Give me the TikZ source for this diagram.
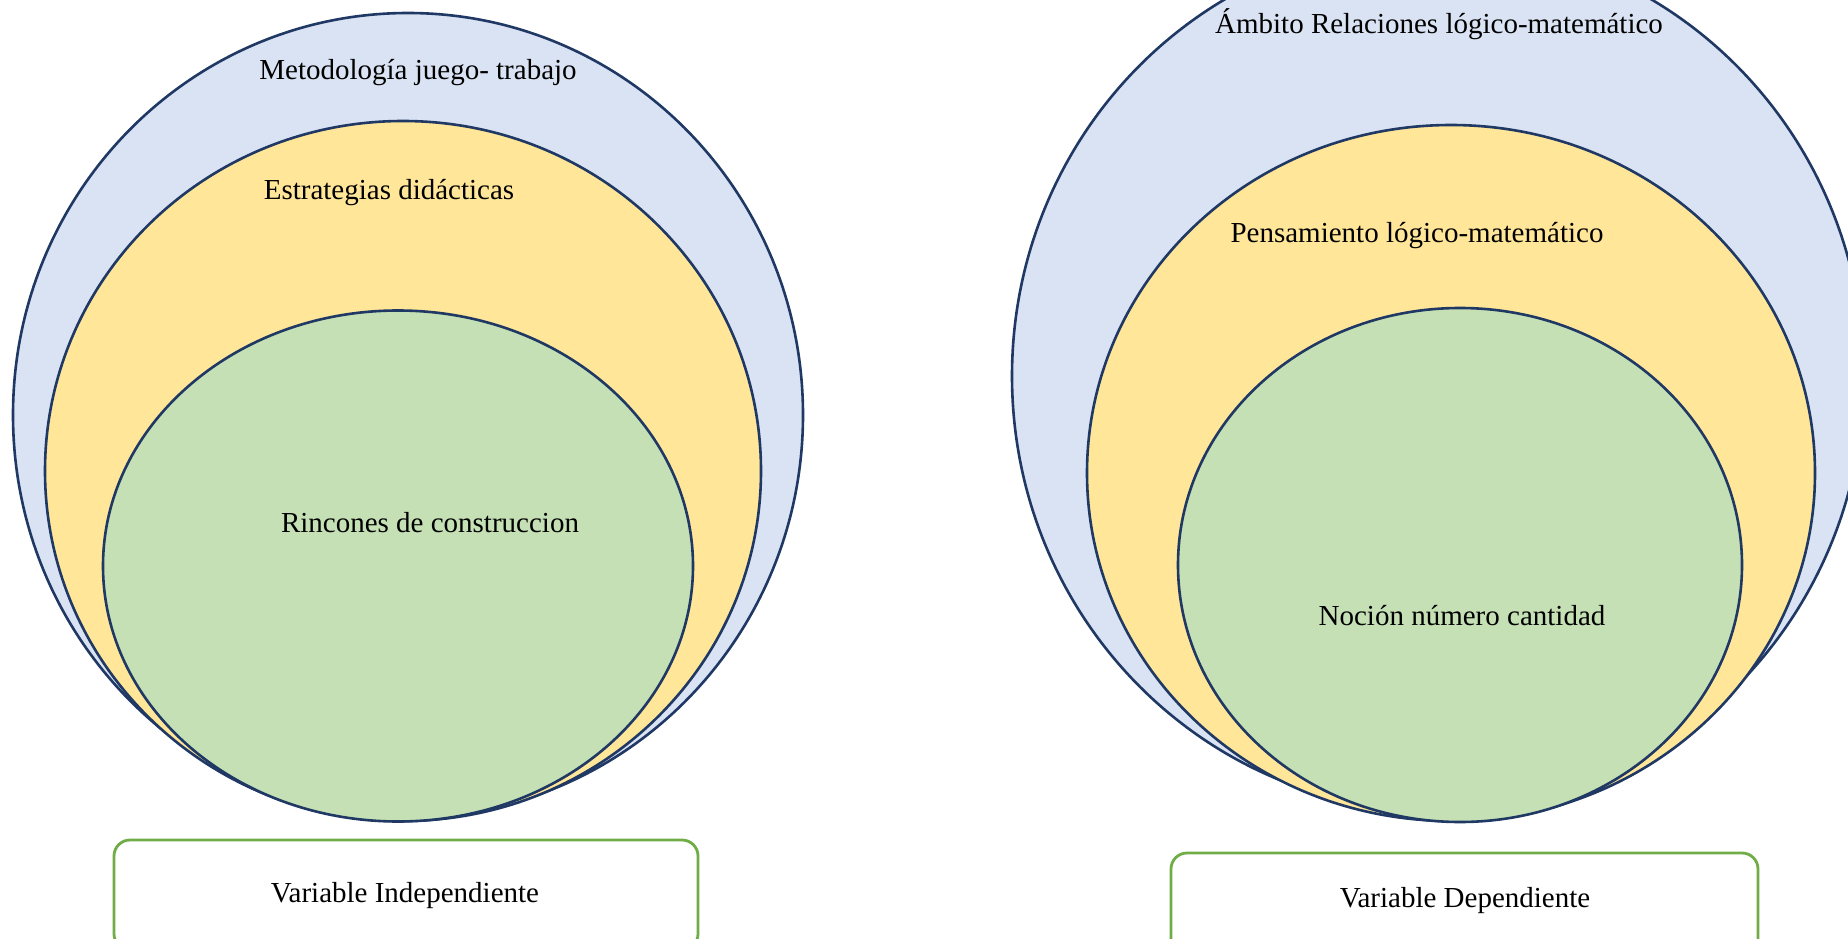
\documentclass[tikz,border=0pt]{standalone}
\usepackage{fontspec}
\setmainfont{Liberation Serif}
\usetikzlibrary{shapes.geometric}
\definecolor{ringblue}{HTML}{DAE3F3}
\definecolor{ringyellow}{HTML}{FFE699}
\definecolor{ringgreen}{HTML}{C5E0B4}
\definecolor{ringline}{HTML}{1F3864}
\definecolor{boxline}{HTML}{70AD47}
\tikzset{
  ring/.style={ellipse, draw=ringline, line width=2.6pt, inner sep=0pt},
  lbl/.style={font=\fontsize{29}{34}\selectfont, anchor=base, inner sep=0pt},
  varbox/.style={draw=boxline, line width=2.8pt, rounded corners=16pt, fill=white}
}
\begin{document}
\begin{tikzpicture}[x=1pt,y=-1pt]
\useasboundingbox (0,0) rectangle (1848,939);
\clip (0,0) rectangle (1848,939);
\fill[white] (0,0) rectangle (1848,939);
% left group
\node[ring, fill=ringblue, minimum width=790pt, minimum height=804pt] (lo) at (408,415) {};
\node[ring, fill=ringyellow, minimum width=716pt, minimum height=700pt] (ly) at (403,471) {};
\node[ring, fill=ringgreen, minimum width=590pt, minimum height=511pt] (lg) at (398,566) {};
\node[lbl] (lot) at (418,80) {Metodología juego- trabajo};
\node[lbl] (lyt) at (389,199) {Estrategias didácticas};
\node[lbl] (lgt) at (430,532) {Rincones de construccion};
% right group
\node[ring, fill=ringblue, minimum width=852pt, minimum height=870pt] (ro) at (1438,376) {};
\node[ring, fill=ringyellow, minimum width=728pt, minimum height=696pt] (ry) at (1451,473) {};
\node[ring, fill=ringgreen, minimum width=564pt, minimum height=514pt] (rg) at (1460,565) {};
\node[lbl] (rot) at (1439,34) {Ámbito Relaciones lógico-matemático};
\node[lbl] (ryt) at (1417,242) {Pensamiento lógico-matemático};
\node[lbl] (rgt) at (1462,625) {Noción número cantidad};
% boxes
\draw[varbox] (114,840) rectangle (698,950);
\node[lbl] (vi) at (405,902) {Variable Independiente};
\draw[varbox] (1171,853) rectangle (1758,955);
\node[lbl] (vd) at (1465,907) {Variable Dependiente};
\end{tikzpicture}
\end{document}
